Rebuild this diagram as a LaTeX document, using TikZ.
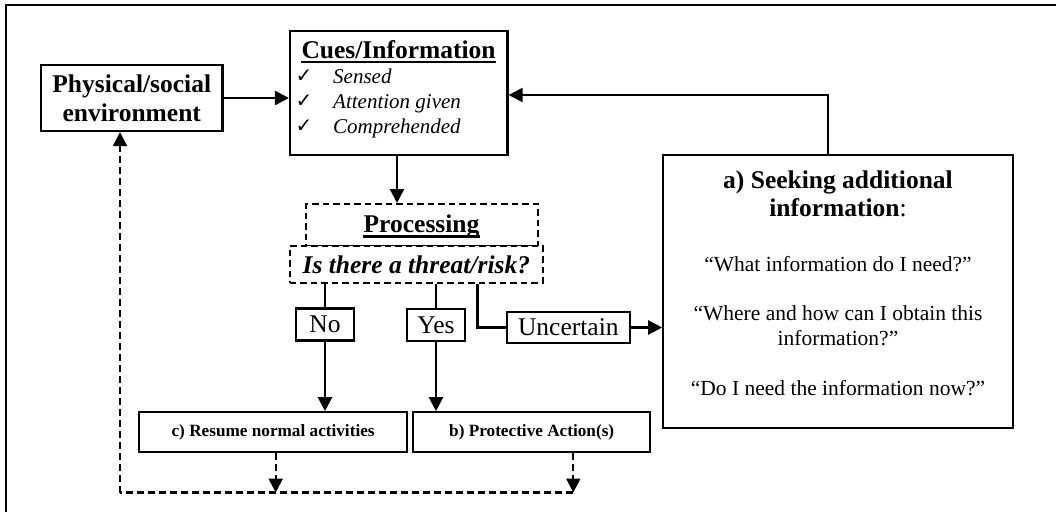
\documentclass[tikz,border=0pt]{standalone}
\usepackage{fontspec}
\setmainfont{Liberation Serif}
\newfontfamily\symfont{DejaVu Sans}
\usetikzlibrary{arrows.meta}
\begin{document}
\begin{tikzpicture}[x=1pt,y=-1pt,
  box/.style={draw, line width=2.2pt, inner sep=0pt, fill=white},
  dbox/.style={draw, line width=2pt, dash pattern=on 6.5pt off 4pt, inner sep=0pt, fill=white},
  tip/.style={-{Triangle[length=14pt,width=14pt]}},
  conn/.style={line width=2.2pt, tip},
  plain/.style={line width=2.2pt},
  dconn/.style={line width=2.2pt, dash pattern=on 7pt off 4pt, tip},
  dline/.style={line width=2.2pt, dash pattern=on 7pt off 4pt},
  uline/.style={line width=2.6pt},
  big/.style={font=\fontsize{25.5}{29}\selectfont},
  bigb/.style={font=\fontsize{25.5}{29}\selectfont\bfseries},
  small/.style={font=\fontsize{17.2}{20}\selectfont\bfseries},
  quote/.style={font=\fontsize{21.5}{25}\selectfont, inner sep=0pt, anchor=base},
  item/.style={font=\fontsize{21}{25}\selectfont\itshape, inner sep=0pt, anchor=base west},
  chk/.style={font=\fontsize{20}{22}\selectfont\symfont, inner sep=0pt, anchor=base west},
  txt/.style={inner sep=0pt, anchor=base}
]
\useasboundingbox (0,0) rectangle (1056,512);
% outer frame
\draw[line width=1.6pt] (6,512) -- (6,5) -- (1056,5);

% boxes
\node[box, bigb, align=center, minimum width=181.5pt, minimum height=66pt] (phys) at (131.75,98) {Physical/social\\environment};
\node[box, minimum width=217.5pt, minimum height=124pt] (cues) at (398.75,93) {};
\node[dbox, minimum width=232pt, minimum height=42pt] (proc) at (422,225) {};
\node[dbox, font=\fontsize{25.5}{29}\selectfont\bfseries\itshape, minimum width=252.7pt, minimum height=37pt] (threat) at (416.3,264.5) {Is there a threat/risk?};
\node[box, big, minimum width=58.4pt, minimum height=32pt] (no) at (325,324.4) {No};
\node[box, big, minimum width=57.7pt, minimum height=32pt] (yes) at (436,325) {Yes};
\node[box, big, minimum width=123.3pt, minimum height=30.3pt] (unc) at (568.3,327.5) {Uncertain};
\node[box, minimum width=349.4pt, minimum height=272.7pt] (seek) at (838,291.4) {};
\node[box, small, minimum width=268.3pt, minimum height=40pt] (resume) at (273.1,432.3) {c) Resume normal activities};
\node[box, small, minimum width=236.7pt, minimum height=40pt] (prot) at (531.7,432.3) {b) Protective Action(s)};

% texts in Cues box
\node[txt, bigb] (cuest) at (398.6,58) {Cues/Information};
\draw[uline] ([yshift=-4pt]cuest.base west) -- ([yshift=-4pt]cuest.base east);
\node[chk] (c1) at (295.5,82) {✓};
\node[chk] (c2) at (295.5,107) {✓};
\node[chk] (c3) at (295.5,132) {✓};
\node[item] (i1) at (333,83) {Sensed};
\node[item] (i2) at (333,108) {Attention given};
\node[item] (i3) at (333,133) {Comprehended};

% Processing title
\node[txt, bigb] (proct) at (421.5,232.5) {Processing};
\draw[uline] ([yshift=-4pt]proct.base west) -- ([yshift=-4pt]proct.base east);

% texts in Seeking box
\node[txt, bigb] (s1) at (838,188) {a) Seeking additional};
\node[txt, big] (s2) at (838,216.7) {{\bfseries information}:};
\node[quote] (q1) at (838,271.7) {“What information do I need?”};
\node[quote] (q2) at (838,320.7) {“Where and how can I obtain this};
\node[quote] (q3) at (838,345.7) {information?”};
\node[quote] (q4) at (838,395) {“Do I need the information now?”};

% coordinates
\coordinate (ct) at (828.3,95);
\coordinate (ca) at (397,0);
\coordinate (ux) at (477.5,0);
\coordinate (cr) at (275.7,492.5);
\coordinate (cp) at (573.3,492.5);
\coordinate (cl) at (120,492.5);

% connectors
\draw[line width=2.8pt, tip] (phys.east) -- (phys.east -| cues.west);
\draw[conn] (seek.north -| ct) -- (ct) -- (ct -| cues.east);
\draw[conn] (cues.south -| ca) -- (ca |- proc.north);
\draw[plain] (threat.south -| no) -- (no.north);
\draw[conn] (no.south) -- (no.south |- resume.north);
\draw[plain] (threat.south -| yes) -- (yes.north);
\draw[conn] (yes.south) -- (yes.south |- prot.north);
\draw[plain] (threat.south -| ux) -- (ux |- unc.west) -- (unc.west);
\draw[conn] (unc.east) -- (unc.east -| seek.west);
\draw[dconn] (resume.south -| cr) -- (cr);
\draw[dconn] (prot.south -| cp) -- (cp);
\draw[dline] (cp) -- (cl);
\draw[dconn] (cl) -- (cl |- phys.south);
\end{tikzpicture}
\end{document}
